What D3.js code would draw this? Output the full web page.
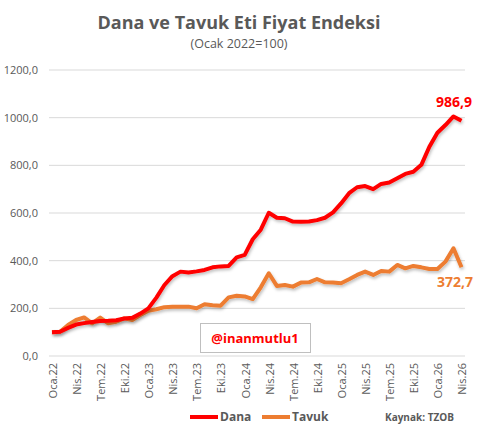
<!DOCTYPE html>
<html>
<head>
<meta charset="utf-8">
<script src="https://cdn.jsdelivr.net/npm/d3@7.9.0/dist/d3.min.js"></script>
<style>
  html, body { margin: 0; padding: 0; background: #fff; }
  svg { display: block; font-family: "Open Sans", "Liberation Sans", sans-serif; }
</style>
</head>
<body>
<svg id="chart" width="478" height="431"></svg>
<script>
// --- data ---
const monthNames = ["Oca", "Şub", "Mar", "Nis", "May", "Haz", "Tem", "Ağu", "Eyl", "Eki", "Kas", "Ara"];
const years = ["22", "23", "24", "25", "26"];
const months = years.flatMap(y => monthNames.map(m => `${m}.${y}`)).slice(0, 52); // Oca.22 .. Nis.26

const dana = [100, 102, 118, 132, 138, 143, 147, 148, 150, 157, 160, 178,
  200, 245, 298, 335, 354, 350, 355, 361, 372, 376, 378, 414,
  424, 490, 530, 601, 580, 578, 564, 563, 564, 570, 580, 603,
  640, 683, 708, 713, 700, 722, 728, 746, 764, 773, 802, 878,
  937, 969, 1005, 986.9];

const tavuk = [100, 102, 130, 151, 162, 137, 161, 137, 144, 158, 151, 172,
  190, 196, 205, 207, 207, 207, 200, 217, 213, 211, 246, 253,
  250, 239, 288, 347, 294, 298, 291, 308, 309, 323, 309, 308,
  305, 322, 340, 354, 340, 357, 354, 382, 368, 378, 372, 365,
  365, 396, 452, 372.7];

const yTicks = [0, 200, 400, 600, 800, 1000, 1200];
const seriesNames = ["Dana", "Tavuk"];
const seriesColors = ["#ff0000", "#ed7d31"];

// --- chart ---
const svg = d3.select("#chart");
const textGray = "#595959";
const fmt = v => d3.format(".1f")(v).replace(".", ",");

const x = d3.scalePoint().domain(months).range([52, 461.5]);
const y = d3.scaleLinear().domain([0, 1200]).range([356, 70]);

// shadow filter for the lines
const defs = svg.append("defs");
const f = defs.append("filter").attr("id", "shadow")
  .attr("x", "-5%").attr("y", "-5%").attr("width", "110%").attr("height", "120%");
f.append("feDropShadow").attr("dx", 1).attr("dy", 2).attr("stdDeviation", 1.5)
  .attr("flood-color", "#000").attr("flood-opacity", 0.25);

// title
svg.append("text").attr("x", 239).attr("y", 29).attr("text-anchor", "middle")
  .attr("font-size", 18).attr("font-weight", "bold").attr("fill", textGray)
  .text("Dana ve Tavuk Eti Fiyat Endeksi");
svg.append("text").attr("x", 239).attr("y", 47.5).attr("text-anchor", "middle")
  .attr("font-size", 12.5).attr("fill", textGray)
  .text("(Ocak 2022=100)");

// gridlines
svg.append("g").selectAll("line").data(yTicks).join("line")
  .attr("x1", 49).attr("x2", 465)
  .attr("y1", d => y(d)).attr("y2", d => y(d))
  .attr("stroke", "#d9d9d9").attr("stroke-width", 1);

// y labels
svg.append("g").selectAll("text").data(yTicks).join("text")
  .attr("x", 38).attr("y", d => y(d)).attr("dy", "0.35em")
  .attr("text-anchor", "end").attr("font-size", 11).attr("fill", textGray)
  .text(d => fmt(d));

// x labels (every 3rd month)
svg.append("g").selectAll("text").data(months.filter((d, i) => i % 3 === 0)).join("text")
  .attr("transform", d => `translate(${x(d) + 1},363) rotate(-90)`)
  .attr("dy", "0.35em").attr("text-anchor", "end")
  .attr("font-size", 11).attr("fill", textGray)
  .text(d => d);

// watermark box (drawn under the lines)
const wm = svg.append("g");
wm.append("rect").attr("x", 200.5).attr("y", 323.5).attr("width", 110).attr("height", 29)
  .attr("fill", "#fff").attr("stroke", "#bfbfbf");
wm.append("text").attr("x", 255).attr("y", 338).attr("dy", "0.35em").attr("text-anchor", "middle")
  .attr("font-size", 13).attr("font-weight", "bold").attr("fill", "#ff0000")
  .text("@inanmutlu1");

// lines
const line = d3.line().x((d, i) => x(months[i])).y(d => y(d)).curve(d3.curveLinear);
[tavuk, dana].forEach((s, k) => {
  svg.append("path").datum(s)
    .attr("d", line)
    .attr("fill", "none")
    .attr("stroke", k === 0 ? seriesColors[1] : seriesColors[0])
    .attr("stroke-width", 4)
    .attr("stroke-linejoin", "round")
    .attr("filter", "url(#shadow)");
});

// end labels
const last = months.length - 1;
svg.append("text").attr("x", 454).attr("y", y(dana[last]) - 14).attr("text-anchor", "middle")
  .attr("font-size", 14).attr("font-weight", "bold").attr("fill", seriesColors[0])
  .text(fmt(dana[last]));
svg.append("text").attr("x", 455).attr("y", y(tavuk[last]) + 20).attr("text-anchor", "middle")
  .attr("font-size", 14).attr("font-weight", "bold").attr("fill", seriesColors[1])
  .text(fmt(tavuk[last]));

// legend
const legend = svg.append("g").attr("transform", "translate(0,417)");
const legX = [190, 262];
seriesNames.forEach((n, i) => {
  legend.append("line").attr("x1", legX[i]).attr("x2", legX[i] + 28)
    .attr("stroke", seriesColors[i]).attr("stroke-width", 4);
  legend.append("text").attr("x", legX[i] + 30).attr("dy", "0.35em")
    .attr("font-size", 12).attr("font-weight", "bold").attr("fill", textGray)
    .text(n);
});
legend.append("text").attr("x", 385).attr("dy", "0.35em")
  .attr("font-size", 10).attr("font-weight", "bold").attr("fill", textGray)
  .text("Kaynak: TZOB");
</script>
</body>
</html>
